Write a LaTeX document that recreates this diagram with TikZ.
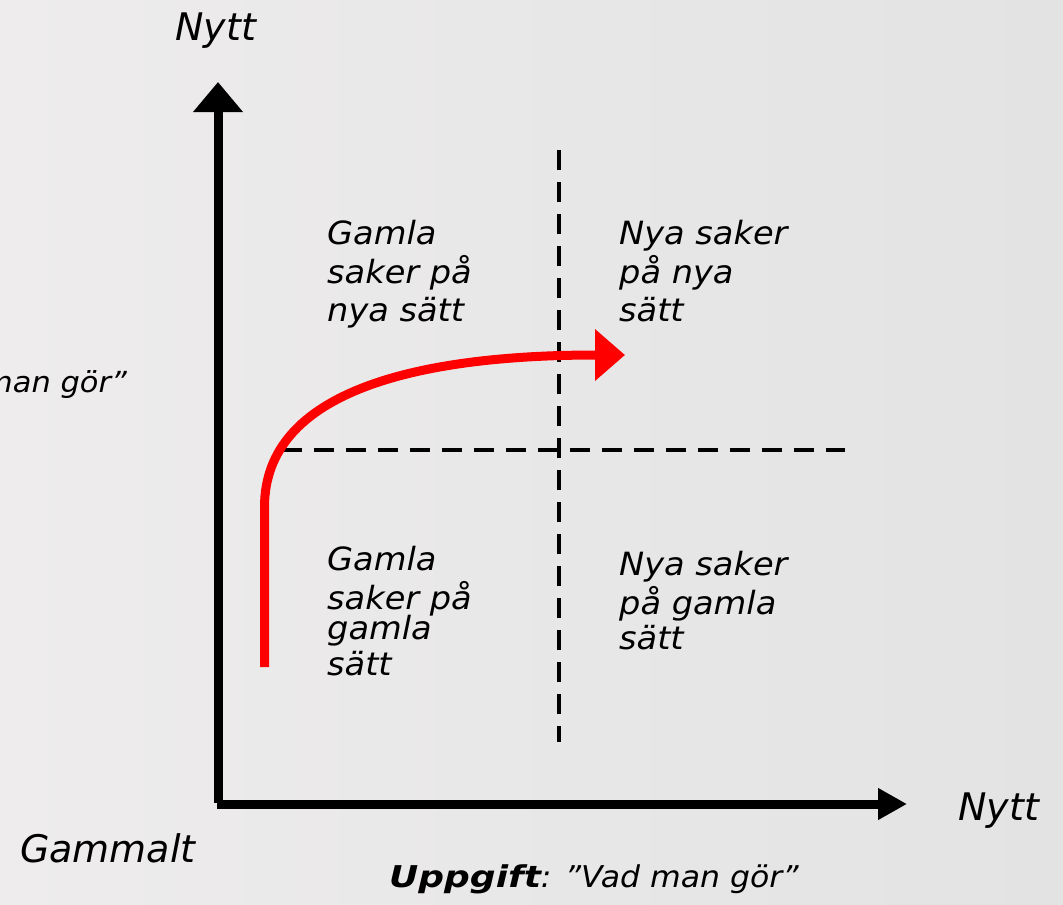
\documentclass[tikz,border=0pt]{standalone}
\usepackage{fontspec}
\setmainfont{DejaVu Sans}
\newfontfamily\widefont{DejaVu Sans}[FakeStretch=1.05]
\newfontfamily\boldwide{DejaVu Sans}[FakeStretch=1.2]
\usetikzlibrary{
    arrows.meta,
    calc,
    positioning
}
\definecolor{bgleft}{RGB}{238,236,237}
\definecolor{bgright}{RGB}{227,227,227}
\tikzset{
    every picture/.style = {
        x = 1pt,
        y = -1pt
    },
    axis/.style = {
        line width = 9pt
    },
    split/.style = {
        line width = 3.5pt,
        dash pattern = on 20pt off 12pt
    },
    shiftarrow/.style = {
        red,
        line width = 9pt,
        -{Triangle[length=30pt, width=50pt]}
    },
    quadrant/.style = {
        anchor = north west,
        inner sep = 0pt,
        align = left,
        font = \widefont\fontsize{32}{38.5}\selectfont\itshape
    },
    axistext/.style = {
        anchor = base west,
        inner sep = 0pt,
        font = \fontsize{38}{44}\selectfont\itshape
    },
    smalltext/.style = {
        inner sep = 0pt,
        font = \widefont\fontsize{30}{36}\selectfont\itshape
    }
}

\begin{document}
\begin{tikzpicture}
    % background
    \shade[left color=bgleft, right color=bgright] (0,0) rectangle (1063,905);
    \useasboundingbox (0,0) rectangle (1063,905);

    \coordinate (origo) at (218,803);
    \coordinate (ytopp) at (218,82);
    \coordinate (xstart) at (217,804);
    \coordinate (xslut) at (907,804);

    % axes
    \draw[axis, -{Triangle[length=30pt, width=48pt]}] (origo) -- (ytopp);
    \draw[axis, -{Triangle[length=29pt, width=30pt]}] (xstart) -- (xslut);

    % quadrant borders
    \coordinate (delaupp) at (559,150);
    \coordinate (delaned) at (559,742);
    \coordinate (delavanster) at (282,450);
    \coordinate (delahoger) at (845,450);
    \draw[split] (delaupp) -- (delaned);
    \draw[split] (delavanster) -- (delahoger);

    % quadrants
    \node[quadrant] (gamlanya) at (327,220) {Gamla\\saker på\\nya sätt};
    \node[quadrant] (nyanya) at (619,220) {Nya saker\\på nya\\sätt};
    \node[quadrant] (gamlagamla) at (327,546) {Gamla\\saker på\\[-8pt]gamla\\[-3pt]sätt};
    \node[quadrant] (nyagamla) at (619,551) {Nya saker\\på gamla\\[-3pt]sätt};

    % axis texts
    \node[axistext] (nyttupp) at (175,40) {Nytt};
    \node[axistext] (nytthoger) at (958,820) {Nytt};
    \node[axistext] (gammalt) at (20,862) {Gammalt};
    \node[smalltext, font=\widefont\fontsize{29}{34}\selectfont\itshape,
        anchor=base east] (hur) at (127,392) {man gör”};
    \node[smalltext, anchor=base west] (uppgift) at (389,887)
        {{\boldwide\bfseries Uppgift}: ”Vad man gör”};

    % the move
    \coordinate (start) at (264.5,667);
    \coordinate (bojen) at (264.5,507);
    \coordinate (mal) at (625,355);
    \draw[shiftarrow] (start) -- (bojen)
        .. controls (264.5,390) and (420,355) .. (mal);
\end{tikzpicture}
\end{document}
